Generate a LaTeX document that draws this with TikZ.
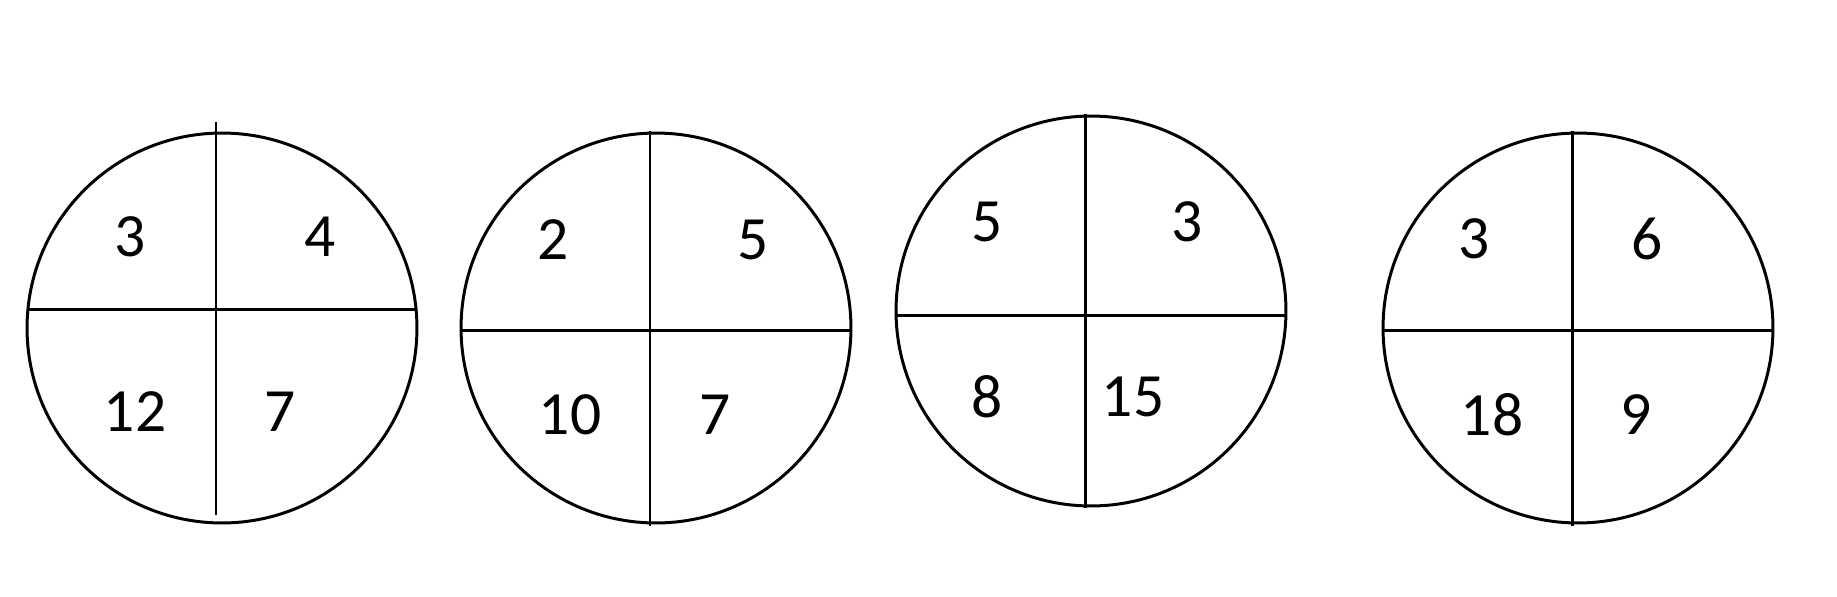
\documentclass[tikz,border=0pt]{standalone}
\usepackage{fontspec}
\setmainfont{Carlito}
\usepackage{tikz}
\usetikzlibrary{positioning}
\tikzset{
  wheel/.style={circle, draw=black, line width=1.7pt, minimum size=7.8cm, inner sep=0pt},
  spoke/.style={draw=black, line width=1.7pt},
  num/.style={inner sep=0pt, font=\fontsize{35}{35}\selectfont},
}

\begin{document}
\begin{tikzpicture}[x=0.02cm, y=-0.02cm]
\useasboundingbox (0,0) rectangle (1837,596);
% first wheel
\node[wheel] (w1) at (222,328) {};
\draw[spoke] (216,122) -- (216,515);
\draw[spoke] (28,309) -- (416,309);
\node[num] (w1a) at (130,237) {3};
\node[num] (w1b) at (320,237) {4};
\node[num] (w1c) at (135,412) {12};
\node[num] (w1d) at (280,412) {7};
% second wheel
\node[wheel] (w2) at (656,328) {};
\draw[spoke] (650,131) -- (650,526);
\draw[spoke] (461,330) -- (851,330);
\node[num] (w2a) at (553,240) {2};
\node[num] (w2b) at (753,240) {5};
\node[num] (w2c) at (570,415) {10};
\node[num] (w2d) at (715,415) {7};
% third wheel
\node[wheel] (w3) at (1091,311) {};
\draw[spoke] (1085,114) -- (1085,508);
\draw[spoke] (896,315) -- (1286,315);
\node[num] (w3a) at (987,222) {5};
\node[num] (w3b) at (1187,222) {3};
\node[num] (w3c) at (987,397) {8};
\node[num] (w3d) at (1133,397) {15};
% fourth wheel
\node[wheel] (w4) at (1578,328) {};
\draw[spoke] (1572,131) -- (1572,526);
\draw[spoke] (1382,330) -- (1774,330);
\node[num] (w4a) at (1474,239) {3};
\node[num] (w4b) at (1647,239) {6};
\node[num] (w4c) at (1492,415) {18};
\node[num] (w4d) at (1636,415) {9};
\end{tikzpicture}
\end{document}
